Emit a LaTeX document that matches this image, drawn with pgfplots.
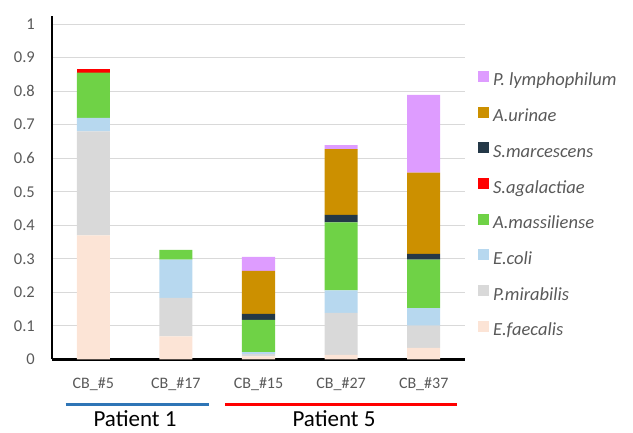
\documentclass[border=0pt]{standalone}
\usepackage{pgfplots}
\usepackage{pgfplotstable}
\pgfplotsset{compat=1.18}
\usepackage{fontspec}
\setmainfont{Carlito}
\definecolor{cef}{HTML}{FCE4D6}
\definecolor{cpm}{HTML}{D9D9D9}
\definecolor{cec}{HTML}{B7D8EF}
\definecolor{cam}{HTML}{6FD246}
\definecolor{csa}{HTML}{FF0000}
\definecolor{csm}{HTML}{243847}
\definecolor{cau}{HTML}{CC9000}
\definecolor{cpl}{HTML}{DE9CFF}
\definecolor{gridgray}{HTML}{D9D9D9}
\definecolor{labelgray}{HTML}{595959}
\definecolor{pblue}{HTML}{2E75B6}

\pgfplotstableread{
x  ef    pm    ec    am    sa    sm    au    pl
0  0.370 0.310 0.040 0.135 0.012 0.000 0.000 0.000
1  0.069 0.115 0.114 0.029 0.000 0.000 0.000 0.000
2  0.009 0.007 0.006 0.096 0.000 0.018 0.128 0.042
3  0.014 0.125 0.067 0.203 0.000 0.022 0.196 0.012
4  0.035 0.066 0.052 0.145 0.000 0.017 0.242 0.232
}\data

\begin{document}
\begin{tikzpicture}
\path[use as bounding box] (0,0) rectangle (633pt,433pt);
\begin{axis}[
  at={(52pt,73.5pt)}, anchor=south west, scale only axis,
  width=413pt, height=343.5pt,
  xmin=-0.5, xmax=4.5, ymin=0, ymax=1.024,
  ybar stacked, bar width=0.4,
  axis x line*=bottom, axis y line*=left,
  x axis line style={line width=2.5pt, -},
  y axis line style={line width=1.5pt, -},
  major tick length=0,
  ytick={0,0.1,0.2,0.3,0.4,0.5,0.6,0.7,0.8,0.9,1},
  yticklabels={0,0.1,0.2,0.3,0.4,0.5,0.6,0.7,0.8,0.9,1},
  ymajorgrids, grid style={color=gridgray, line width=1pt},
  xtick={0,1,2,3,4},
  xticklabels={CB\_\#5,CB\_\#17,CB\_\#15,CB\_\#27,CB\_\#37},
  yticklabel style={font=\fontsize{16.5}{18}\selectfont, text=labelgray, anchor=east, inner sep=0pt, xshift=-17pt},
  xticklabel style={font=\fontsize{16}{18}\selectfont, text=labelgray, anchor=north, inner sep=0pt, yshift=-18pt},
  legend image code/.code={\fill[#1] (0pt,0pt) rectangle (11pt,11pt);},
  reverse legend,
  legend cell align=left,
  legend style={draw=none, fill=none, inner sep=0pt, outer sep=0pt,
    at={(1.0315,0.840)}, anchor=north west, row sep=16.7pt,
    nodes={inner sep=0pt, text height=12pt, text depth=4pt,
      font=\fontsize{18.5}{20}\selectfont\itshape, text=labelgray},
    /tikz/every odd column/.append style={column sep=4pt}},
]
\addplot[fill=cef, draw=none] table[x=x, y=ef] {\data};
\addplot[fill=cpm, draw=none] table[x=x, y=pm] {\data};
\addplot[fill=cec, draw=none] table[x=x, y=ec] {\data};
\addplot[fill=cam, draw=none] table[x=x, y=am] {\data};
\addplot[fill=csa, draw=none] table[x=x, y=sa] {\data};
\addplot[fill=csm, draw=none] table[x=x, y=sm] {\data};
\addplot[fill=cau, draw=none] table[x=x, y=au] {\data};
\addplot[fill=cpl, draw=none] table[x=x, y=pl] {\data};
\legend{E.faecalis,P.mirabilis,E.coli,A.massiliense,S.agalactiae,S.marcescens,A.urinae,P. lymphophilum}
\end{axis}
\draw[line width=2.5pt, color=pblue] (65.7pt,28.5pt) -- (209pt,28.5pt);
\draw[line width=2.5pt, color=red] (225pt,28.5pt) -- (457pt,28.5pt);
\node[font=\fontsize{23}{27}\selectfont, inner sep=0pt] at (135pt,14.5pt) {Patient 1};
\node[font=\fontsize{23}{27}\selectfont, inner sep=0pt] at (334pt,14.5pt) {Patient 5};
\end{tikzpicture}
\end{document}
